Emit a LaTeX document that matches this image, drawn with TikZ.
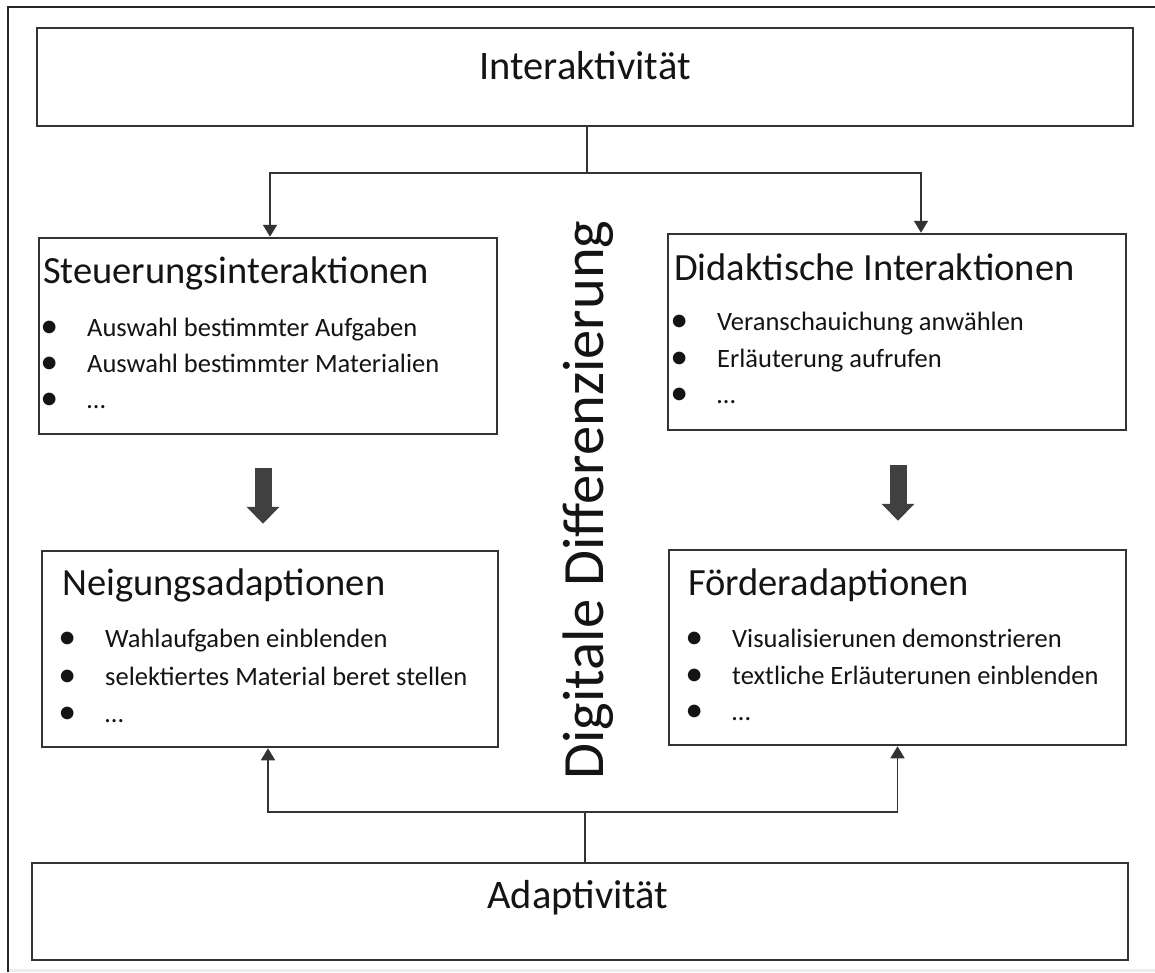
\documentclass[tikz,border=0pt]{standalone}
\usepackage{fontspec}
\setmainfont{Carlito}
\usetikzlibrary{arrows.meta,calc}
\definecolor{linec}{HTML}{333333}
\definecolor{blockc}{HTML}{404040}
\definecolor{textc}{HTML}{141414}
\newcommand\bul{\llap{\raisebox{-1.6pt}{\scalebox{1.35}{\textbullet}}\hspace{29pt}}}

\begin{document}
\begin{tikzpicture}[x=1pt,y=-1pt,
  box/.style={draw=linec, line width=2.5pt, fill=white, inner sep=0},
  conn/.style={draw=linec, line width=1.7pt},
  tip/.style={-{Triangle[width=14pt,length=12pt]}},
  block/.style={draw=blockc, line width=17pt, -{Triangle[width=32pt,length=17pt]}},
  frame/.style={draw=black!85, line width=2.4pt},
  big/.style={font=\fontsize{40.5}{46}\selectfont, text=textc, inner sep=0, anchor=base},
  head/.style={font=\fontsize{38.5}{44}\selectfont, text=textc, inner sep=0, anchor=base west},
  item/.style={font=\fontsize{26.5}{30}\selectfont, text=textc, inner sep=0, anchor=base west}]
\useasboundingbox (0,0) rectangle (1155,972);

% outer frame and lower edge
\fill[black!7] (9,969) rectangle (1155,972);
\draw[frame] (8,972) -- (8,7) -- (1155,7);

% boxes
\node[box, minimum width=1096pt, minimum height=98pt] (inter) at (585,77) {};
\node[box, minimum width=458pt, minimum height=196pt] (steu) at (268,336) {};
\node[box, minimum width=458pt, minimum height=196pt] (dida) at (897,332) {};
\node[box, minimum width=456pt, minimum height=196pt] (neig) at (270,649) {};
\node[box, minimum width=457pt, minimum height=195pt] (foerd) at (897.5,647.5) {};
\node[box, minimum width=1096pt, minimum height=97pt] (adapt) at (580,911.5) {};

% box texts
\node[big] (interT) at (585,79) {Interaktivität};
\node[big] (adaptT) at (578,908) {Adaptivität};

\node[head] (steuT) at (43,283) {Steuerungsinteraktionen};
\node[item] (steu1) at (87,336) {\bul Auswahl bestimmter Aufgaben};
\node[item] (steu2) at (87,372) {\bul Auswahl bestimmter Materialien};
\node[item] (steu3) at (87,408) {\bul …};

\node[head] (didaT) at (674,280) {Didaktische Interaktionen};
\node[item] (dida1) at (717,330) {\bul Veranschauichung anwählen};
\node[item] (dida2) at (717,367) {\bul Erläuterung aufrufen};
\node[item] (dida3) at (717,403) {\bul …};

\node[head] (neigT) at (62,595) {Neigungsadaptionen};
\node[item] (neig1) at (105,647) {\bul Wahlaufgaben einblenden};
\node[item] (neig2) at (105,685) {\bul selektiertes Material beret stellen};
\node[item] (neig3) at (105,722) {\bul …};

\node[head] (foerdT) at (688,595) {Förderadaptionen};
\node[item] (foerd1) at (732,647) {\bul Visualisierunen demonstrieren};
\node[item] (foerd2) at (732,684) {\bul textliche Erläuterunen einblenden};
\node[item] (foerd3) at (732,720) {\bul …};

% vertical title
\node[rotate=90, anchor=base, font=\fontsize{58.5}{62}\selectfont, text=textc, inner sep=0]
  (dd) at (603,500) {Digitale Differenzierung};

% branching connector from the top box
\coordinate (tj) at (587,173);
\draw[conn] (inter.south -| tj) -- (tj);
\draw[conn, tip] (tj) -| ([xshift=2pt]steu.north);
\draw[conn, tip] (tj) -| ([xshift=24pt]dida.north);

% branching connector from the bottom box
\coordinate (bj) at (585,812);
\draw[conn] (adapt.north -| bj) -- (bj);
\draw[conn, tip] (bj) -| ([xshift=-2pt]neig.south);
\draw[conn, tip] (bj) -| (foerd.south);

% block arrows between the rows
\coordinate (la) at (263,0);
\coordinate (ra) at (898,0);
\draw[block, shorten <=33pt, shorten >=26pt] (steu.south -| la) -- (neig.north -| la);
\draw[block, shorten <=34pt, shorten >=28pt] (dida.south -| ra) -- (foerd.north -| ra);
\end{tikzpicture}
\end{document}
